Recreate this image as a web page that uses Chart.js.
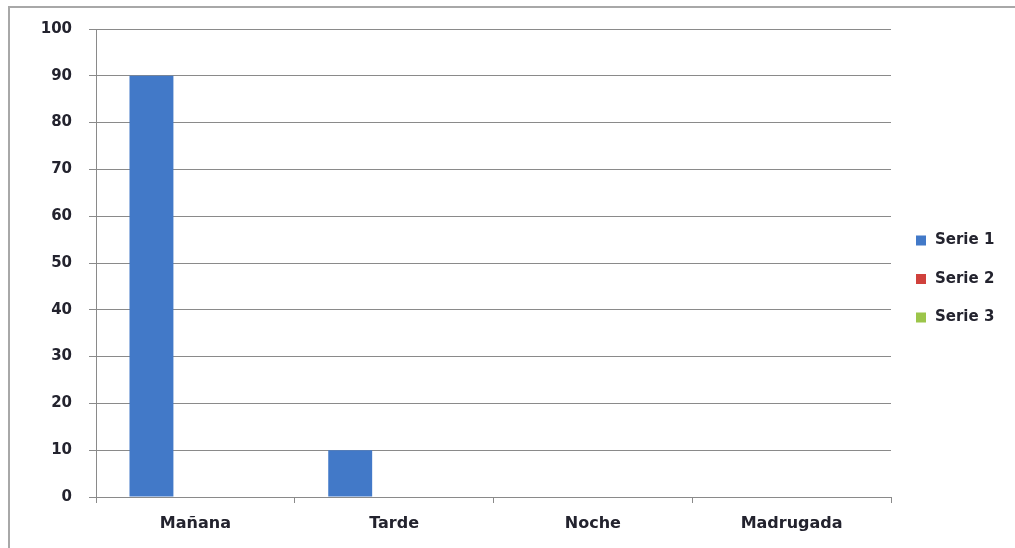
<!DOCTYPE html>
<html>
<head>
<meta charset="utf-8">
<script src="https://cdn.jsdelivr.net/npm/chart.js@4.4.1/dist/chart.umd.min.js"></script>
<style>
  html, body { margin: 0; padding: 0; background: #ffffff; }
  #wrap { width: 1015px; height: 548px; position: relative; }
</style>
</head>
<body>
<div id="wrap"><canvas id="c" width="1015" height="548"></canvas></div>
<script>
const categories = ['Mañana', 'Tarde', 'Noche', 'Madrugada'];
const seriesLabels = ['Serie 1', 'Serie 2', 'Serie 3'];
const serie1 = [90, 10, 0, 0];
const serie2 = [0, 0, 0, 0];
const serie3 = [0, 0, 0, 0];
const yTicks = [0, 10, 20, 30, 40, 50, 60, 70, 80, 90, 100];

const colors = ['#4279c8', '#d0413c', '#9cc54a'];
const FONT = "'DejaVu Sans', sans-serif";
const TEXT = '#23232e';
const GRID = '#8a8a8a';

const framePlugin = {
  id: 'frame',
  beforeDraw(chart) {
    const ctx = chart.ctx;
    ctx.save();
    ctx.fillStyle = '#ffffff';
    ctx.fillRect(0, 0, chart.width, chart.height);
    ctx.strokeStyle = '#a8a8a8';
    ctx.lineWidth = 2;
    ctx.strokeRect(9, 7, chart.width + 20, chart.height + 20);
    ctx.restore();
  }
};

const legendPlugin = {
  id: 'customLegend',
  afterDraw(chart) {
    const ctx = chart.ctx;
    const x0 = 916, yStart = 240.5, step = 38.5;
    ctx.save();
    ctx.font = 'bold 15px ' + FONT;
    ctx.textBaseline = 'middle';
    ctx.textAlign = 'left';
    chart.data.datasets.forEach((ds, i) => {
      const y = yStart + i * step;
      ctx.fillStyle = ds.backgroundColor;
      ctx.fillRect(x0, y - 5, 10, 10);
      ctx.fillStyle = TEXT;
      ctx.fillText(ds.label, 935, y);
    });
    ctx.restore();
  }
};

new Chart(document.getElementById('c'), {
  type: 'bar',
  data: {
    labels: categories,
    datasets: [
      { label: seriesLabels[0], data: serie1, backgroundColor: colors[0] },
      { label: seriesLabels[1], data: serie2, backgroundColor: colors[1] },
      { label: seriesLabels[2], data: serie3, backgroundColor: colors[2] }
    ]
  },
  options: {
    responsive: false,
    animation: false,
    devicePixelRatio: 1,
    layout: { padding: { left: 10, right: 124, top: 29, bottom: 0 } },
    datasets: { bar: { categoryPercentage: 0.663, barPercentage: 1.0, borderWidth: 0 } },
    plugins: {
      legend: { display: false },
      tooltip: { enabled: false }
    },
    scales: {
      x: {
        afterFit(scale) { scale.height = 51; },
        grid: { display: true, drawOnChartArea: false, offset: true, color: GRID, tickLength: 6, lineWidth: 1 },
        border: { display: true, color: GRID, width: 1 },
        ticks: { font: { family: FONT, size: 16, weight: 'bold' }, color: TEXT, padding: 11, maxRotation: 0 }
      },
      y: {
        min: 0, max: 100,
        afterFit(scale) { scale.width = 86; },
        afterBuildTicks(scale) { scale.ticks = yTicks.map(v => ({ value: v })); },
        grid: { color: GRID, tickLength: 7, lineWidth: 1 },
        border: { display: true, color: GRID, width: 1 },
        ticks: { font: { family: FONT, size: 15, weight: 'bold' }, color: TEXT, padding: 17 }
      }
    }
  },
  plugins: [framePlugin, legendPlugin]
});
</script>
</body>
</html>
